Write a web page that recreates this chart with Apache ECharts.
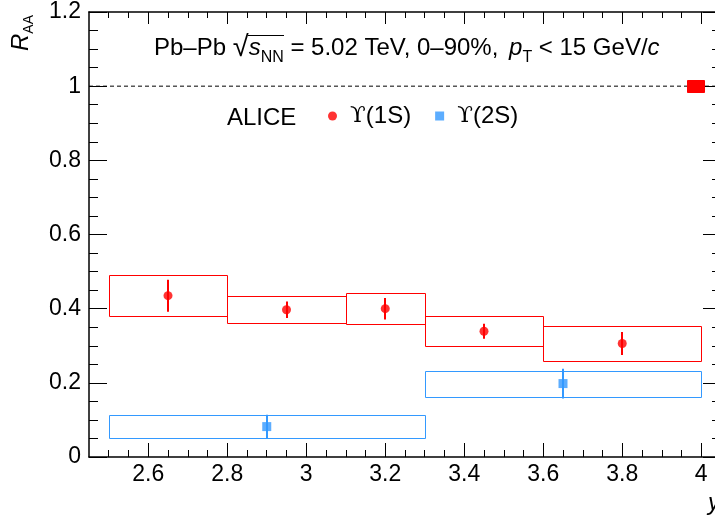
<!DOCTYPE html>
<html><head><meta charset="utf-8">
<script src="https://cdn.jsdelivr.net/npm/echarts@6/dist/echarts.min.js"></script>
<style>html,body{margin:0;padding:0;background:#fff}#c{width:715px;height:515px}</style>
</head><body><div id="c"></div>
<script>
// ---- data ----
const binLo1 = [2.5, 2.8, 3.1, 3.3, 3.6];
const binHi1 = [2.8, 3.1, 3.3, 3.6, 4.0];
const x1 = [2.65, 2.95, 3.2, 3.45, 3.8];
const raa1 = [0.435, 0.397, 0.400, 0.339, 0.306];
const stat1 = [0.043, 0.022, 0.029, 0.020, 0.031];
const sys1 = [0.055, 0.036, 0.042, 0.041, 0.048];

const binLo2 = [2.5, 3.3];
const binHi2 = [3.3, 4.0];
const x2 = [2.9, 3.65];
const raa2 = [0.082, 0.198];
const stat2 = [0.032, 0.040];
const sys2 = [0.032, 0.035];

const globLo = [3.965], globHi = [4.008], globVal = [1.0], globUnc = [0.016];

const xMajorTicks = [2.6, 2.8, 3.0, 3.2, 3.4, 3.6, 3.8, 4.0];
const xMinorTicks = [2.5, 2.55, 2.65, 2.7, 2.75, 2.85, 2.9, 2.95, 3.05, 3.1, 3.15, 3.25, 3.3, 3.35,
  3.45, 3.5, 3.55, 3.65, 3.7, 3.75, 3.85, 3.9, 3.95];
const unityLine = [[2.45, 1], [4.05, 1]];

const RED = '#ff0000', BLUE = '#3399ff';
const FONT = 'Liberation Sans';

function boxRender(color, fill) {
  return function (params, api) {
    const a = api.coord([api.value(0), api.value(2) + api.value(3)]);
    const b = api.coord([api.value(1), api.value(2) - api.value(3)]);
    const xa = Math.round(a[0]) + 0.5, ya = Math.round(a[1]) + 0.5;
    const xb = Math.round(b[0]) + 0.5, yb = Math.round(b[1]) + 0.5;
    return { type: 'rect', shape: { x: xa, y: ya, width: xb - xa, height: yb - ya },
      style: { fill: fill || 'none', stroke: color, lineWidth: 1 } };
  };
}
function errRender(color) {
  return function (params, api) {
    const a = api.coord([api.value(0), api.value(1) - api.value(2)]);
    const b = api.coord([api.value(0), api.value(1) + api.value(2)]);
    const x = Math.round(a[0]);
    return { type: 'line', shape: { x1: x, y1: a[1], x2: x, y2: b[1] },
      style: { stroke: color, lineWidth: 2 } };
  };
}

const boxes1 = binLo1.map((v, i) => [v, binHi1[i], raa1[i], sys1[i]]);
const boxes2 = binLo2.map((v, i) => [v, binHi2[i], raa2[i], sys2[i]]);
const errs1 = x1.map((v, i) => [v, raa1[i], stat1[i]]);
const errs2 = x2.map((v, i) => [v, raa2[i], stat2[i]]);
const pts1 = x1.map((v, i) => [v, raa1[i]]);
const pts2 = x2.map((v, i) => [v, raa2[i]]);
const glob = globLo.map((v, i) => [v, globHi[i], globVal[i], globUnc[i]]);

const chart = echarts.init(document.getElementById('c'));
const xBase = { type: 'value', min: 2.45, max: 4.05, splitLine: { show: false } };
const yBase = { type: 'value', min: 0, max: 1.2, interval: 0.2, splitLine: { show: false } };
const lineSty = { color: '#000', width: 1.5 };
const tickSty = { color: '#000', width: 1 };

chart.setOption({
  animation: false,
  backgroundColor: '#fff',
  grid: { left: 89, top: 12, bottom: 58, width: 632, containLabel: false, outerBoundsMode: 'none' },
  xAxis: [
    Object.assign({}, xBase, { position: 'bottom', axisLine: { show: true, lineStyle: lineSty },
      axisTick: { show: true, inside: true, length: 14, customValues: xMajorTicks, lineStyle: tickSty },
      axisLabel: { show: true, customValues: xMajorTicks, margin: 6, color: '#000', fontSize: 23, fontFamily: FONT,
        formatter: v => String(+(+v).toFixed(1)) } }),
    Object.assign({}, xBase, { position: 'bottom', axisLine: { show: false },
      axisTick: { show: true, inside: true, length: 7, customValues: xMinorTicks, lineStyle: tickSty },
      axisLabel: { show: false } }),
    Object.assign({}, xBase, { position: 'top', axisLine: { show: true, lineStyle: lineSty },
      axisTick: { show: true, inside: true, length: 12, customValues: xMajorTicks, lineStyle: tickSty },
      axisLabel: { show: false } }),
    Object.assign({}, xBase, { position: 'top', axisLine: { show: false },
      axisTick: { show: true, inside: true, length: 6, customValues: xMinorTicks, lineStyle: tickSty },
      axisLabel: { show: false } })
  ],
  yAxis: [
    Object.assign({}, yBase, { position: 'left', axisLine: { show: true, lineStyle: lineSty },
      axisTick: { show: true, inside: true, length: 18, lineStyle: tickSty },
      minorTick: { show: true, splitNumber: 4, length: 9, lineStyle: tickSty },
      axisLabel: { show: true, margin: 8, color: '#000', fontSize: 23, fontFamily: FONT } }),
    Object.assign({}, yBase, { position: 'right', axisLine: { show: true, lineStyle: lineSty },
      axisTick: { show: true, inside: true, length: 18, lineStyle: tickSty },
      minorTick: { show: true, splitNumber: 4, length: 9, lineStyle: tickSty },
      axisLabel: { show: false } })
  ],
  legend: {
    left: 328, top: 104, orient: 'horizontal', selectedMode: false, padding: 0,
    itemWidth: 9, itemHeight: 9, itemGap: 24,
    data: [{ name: 'ϒ(1S)', icon: 'circle' }, { name: 'ϒ(2S)', icon: 'rect' }],
    formatter: n => '{u|ϒ}{t|' + n.slice(1) + '}',
    textStyle: { color: '#000', fontFamily: FONT, fontSize: 24,
      rich: { u: { fontFamily: 'DejaVu Serif', fontSize: 23, color: '#000', padding: [0, 0, 0, 8] },
              t: { fontFamily: FONT, fontSize: 24, color: '#000' } } }
  },
  series: [
    { type: 'line', data: unityLine, symbol: 'none', silent: true, z: 1,
      lineStyle: { color: '#000', width: 1, type: [4, 3] } },
    { type: 'custom', renderItem: boxRender(RED), data: boxes1, encode: { x: [0, 1], y: 2 }, z: 2, silent: true },
    { type: 'custom', renderItem: boxRender(BLUE), data: boxes2, encode: { x: [0, 1], y: 2 }, z: 2, silent: true },
    { type: 'custom', renderItem: boxRender(RED, RED), data: glob, encode: { x: [0, 1], y: 2 }, z: 2, silent: true },
    { type: 'custom', renderItem: errRender(RED), data: errs1, encode: { x: 0, y: 1 }, z: 3, silent: true },
    { type: 'custom', renderItem: errRender(BLUE), data: errs2, encode: { x: 0, y: 1 }, z: 3, silent: true },
    { name: 'ϒ(1S)', type: 'scatter', data: pts1, symbol: 'circle', symbolSize: 9, itemStyle: { color: RED }, z: 4 },
    { name: 'ϒ(2S)', type: 'scatter', data: pts2, symbol: 'rect', symbolSize: 9, itemStyle: { color: BLUE }, z: 4 }
  ],
  graphic: [
    { type: 'text', x: 21, y: 51, rotation: Math.PI / 2,
      style: { text: '{r|R}{s|AA}', align: 'left', verticalAlign: 'middle',
        rich: { r: { fontFamily: FONT, fontStyle: 'italic', fontSize: 24, lineHeight: 30, color: '#000' },
                s: { fontFamily: FONT, fontSize: 14, lineHeight: 12, verticalAlign: 'bottom', color: '#000' } } } },
    { type: 'text', x: 154, y: 48,
      style: { text: '{n|Pb–Pb }{q|√}{i|s}{sub|NN}{n| = 5.02 TeV, 0–90%, }{ip|p}{subT|T}{n| < 15 GeV/}{i|c}',
        align: 'left', verticalAlign: 'middle',
        rich: {
          n: { fontFamily: FONT, fontSize: 24, lineHeight: 36, color: '#000' },
          q: { fontFamily: FONT, fontSize: 29, lineHeight: 36, color: '#000' },
          i: { fontFamily: FONT, fontSize: 24, fontStyle: 'italic', lineHeight: 36, color: '#000' },
          ip: { fontFamily: FONT, fontSize: 24, fontStyle: 'italic', lineHeight: 36, color: '#000', padding: [0, 0, 0, 4] },
          sub: { fontFamily: FONT, fontSize: 16, lineHeight: 12, verticalAlign: 'bottom', color: '#000' },
          subT: { fontFamily: FONT, fontSize: 16, lineHeight: 2, verticalAlign: 'bottom', color: '#000' }
        } } },
    { type: 'line', shape: { x1: 248, y1: 35.5, x2: 284, y2: 35.5 }, style: { stroke: '#000', lineWidth: 1.2 } },
    { type: 'text', x: 227, y: 118,
      style: { text: 'ALICE', fontFamily: FONT, fontSize: 24, fill: '#000', align: 'left', verticalAlign: 'middle' } },
    { type: 'text', x: 720, y: 491,
      style: { text: 'y', fontFamily: FONT, fontStyle: 'italic', fontSize: 24, fill: '#000', align: 'right', verticalAlign: 'top' } }
  ]
});
</script></body></html>
